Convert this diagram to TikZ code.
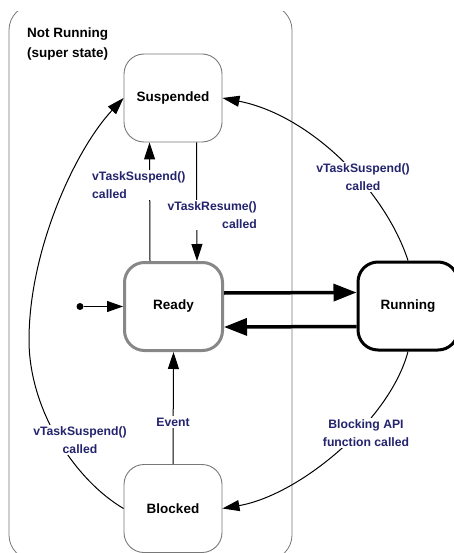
\documentclass[tikz,border=0pt]{standalone}
\usepackage{fontspec}
\setmainfont{Liberation Sans}
\usetikzlibrary{arrows.meta}

\definecolor{labelblue}{RGB}{35,35,110}
\definecolor{framegray}{RGB}{120,120,120}
\definecolor{readygray}{RGB}{135,135,135}

\tikzset{
  statebox/.style={draw=framegray, line width=0.9pt, rounded corners=20pt,
    minimum width=98pt, minimum height=88pt, fill=white,
    font=\fontsize{13.5}{16}\selectfont\bfseries},
  readybox/.style={statebox, draw=readygray, line width=3pt},
  runbox/.style={statebox, draw=black, line width=3pt, minimum width=100pt},
  trans/.style={draw, line width=1pt, -{Triangle[length=17pt, width=11pt]}},
  bigtrans/.style={draw, line width=3.5pt, -{Triangle[length=23pt, width=17pt]}},
  evlabel/.style={fill=white, inner sep=2pt, text=labelblue,
    font=\fontsize{12.2}{17.5}\selectfont\bfseries},
}

\begin{document}
\begin{tikzpicture}[x=1pt, y=-1pt]
  \useasboundingbox (0,0) rectangle (453,553);

  % super state frame, cut off at top and bottom
  \begin{scope}
    \clip (0,12) rectangle (453,553);
    \draw[framegray, line width=0.8pt, rounded corners=25pt] (9,5) rectangle (292,560);
  \end{scope}
  \node[anchor=north west, inner sep=0pt, align=left,
        font=\fontsize{13.5}{19.5}\selectfont\bfseries] (title) at (27,28)
        {Not Running\\(super state)};

  % states
  \node[statebox]  (Suspended) at (173,98)    {Suspended};
  \node[readybox]  (Ready)     at (173.5,306.5) {Ready};
  \node[runbox]    (Running)   at (408,306)   {Running};
  \node[statebox]  (Blocked)   at (173,508.5) {Blocked};

  % initial pseudo state
  \node[circle, fill=black, inner sep=0pt, minimum size=7pt] (init) at (80,306.5) {};
  \draw[line width=1pt, -{Triangle[length=16pt, width=11pt]}] (init) -- (Ready.west);

  % Ready <-> Running
  \draw[bigtrans] ([yshift=13.5pt]Ready.east) -- ([yshift=13.5pt]Running.west);
  \draw[bigtrans] ([yshift=-20.5pt]Running.west) -- ([yshift=-20.5pt]Ready.east);

  % Ready <-> Suspended
  \draw[trans] ([xshift=-23.5pt]Ready.north) -- ([xshift=-23.5pt]Suspended.south);
  \draw[trans] ([xshift=23.5pt]Suspended.south) -- ([xshift=23.5pt]Ready.north);
  \node[evlabel, anchor=west, align=left] (lsus) at (90,185) {vTaskSuspend()\\called};
  \node[evlabel, anchor=east, align=right] (lres) at (259,215) {vTaskResume()\\called};

  % Running -> Suspended
  \draw[trans] (Running.north) .. controls (385,190) and (310,115) .. (Suspended.east);
  \node[evlabel, align=center] (rsus) at (363,177) {vTaskSuspend()\\called};

  % Running -> Blocked
  \draw[trans] (Running.south) .. controls (390,420) and (300,495) .. (Blocked.east);
  \node[evlabel, align=center] (rblk) at (366,433) {Blocking API\\function called};

  % Blocked -> Ready
  \draw[trans] (Blocked.north) -- (Ready.south);
  \node[evlabel] (ev) at (173,422) {Event};

  % Blocked -> Suspended
  \draw[trans] (Blocked.west) .. controls (75,480) and (29,410) .. (29,340)
                 .. controls (29,250) and (75,150) .. (Suspended.west);
  \node[evlabel, align=center] (bsus) at (80,440) {vTaskSuspend()\\called};
\end{tikzpicture}
\end{document}
